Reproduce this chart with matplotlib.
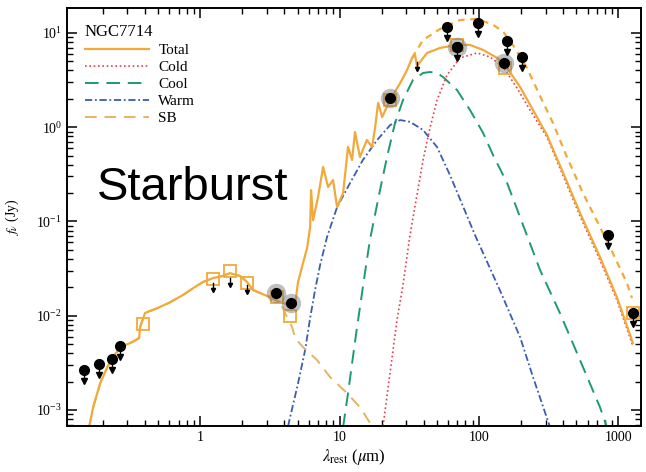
import numpy as np
import matplotlib
matplotlib.use('Agg')
import matplotlib.pyplot as plt
from matplotlib.ticker import NullFormatter, LogLocator

plt.rcParams['font.family'] = ['Liberation Serif', 'DejaVu Serif']
plt.rcParams['mathtext.fontset'] = 'stix'

# model curves (wavelength in micron, flux in Jy)
tot_lam = [0.160, 0.171, 0.192, 0.216, 0.238, 0.258, 0.290, 0.326, 0.365, 0.371, 0.403, 0.492,
           0.610, 0.755, 0.891, 1.05, 1.24, 1.44, 1.64, 1.94, 2.17, 2.40, 2.69, 3.28, 3.74, 4.42,
           4.80, 5.04, 5.47, 5.85, 6.15, 6.25, 6.46, 7.01, 7.62, 8.27, 8.98, 9.60, 10.6, 11.5,
           12.3, 12.9, 14.0, 15.7, 17.1, 18.0, 18.9, 20.2, 23.0, 27.2, 30.5, 33.1, 34.8, 35.9,
           42.4, 52.5, 69.5, 86.2, 107, 135, 159, 197, 244, 307, 413, 530, 737, 975, 1270]
tot_f = [6.57e-4, 1.07e-3, 1.92e-3, 2.85e-3, 3.63e-3, 4.31e-3, 4.87e-3, 5.25e-3, 5.78e-3, 7.57e-3,
         0.0107, 0.0120, 0.0139, 0.0166, 0.0196, 0.0228, 0.0251, 0.0263, 0.0283, 0.0263, 0.0228,
         0.0187, 0.0174, 0.0154, 0.0139, 0.0130, 0.0133, 0.0228, 0.0362, 0.0522, 0.0872, 0.215,
         0.103, 0.182, 0.378, 0.232, 0.275, 0.142, 0.200, 0.616, 0.449, 0.889, 0.483, 0.731,
         0.616, 1.00, 1.81, 1.28, 1.94, 2.94, 4.05, 5.43, 5.84, 4.46, 6.13, 6.93, 7.46, 7.46,
         6.60, 5.43, 4.25, 2.67, 1.52, 0.826, 0.296, 0.123, 0.0419, 0.0157, 5.12e-3]

sb_tail_lam = [4.20, 4.57, 4.80, 5.47, 6.90, 8.55, 11.3, 14.0, 17.1]
sb_tail_f = [9.66e-3, 7.57e-3, 5.78e-3, 4.64e-3, 3.38e-3, 2.23e-3, 1.51e-3, 1.07e-3, 6.73e-4]

warm_lam = [4.27, 5.04, 5.66, 6.15, 6.67, 7.25, 8.13, 9.60, 11.9, 14.7, 18.6, 23.0, 27.2, 32.0,
            39.7, 50.0, 61.9, 93.6, 141, 197, 244, 323]
warm_f = [6.73e-4, 1.92e-3, 4.31e-3, 9.42e-3, 0.0187, 0.0344, 0.0683, 0.142, 0.256, 0.449, 0.731,
          1.05, 1.19, 1.14, 0.934, 0.616, 0.311, 0.0717, 0.0187, 5.93e-3, 2.23e-3, 6.57e-4]

cool_lam = [10.6, 11.5, 13.1, 15.2, 16.5, 19.5, 21.9, 25.0, 28.5, 33.6, 39.7, 44.5, 50.0, 55.2,
            69.5, 86.2, 107, 126, 159, 197, 274, 380, 530, 737, 827]
cool_f = [6.57e-4, 1.51e-3, 6.22e-3, 0.0283, 0.0634, 0.215, 0.483, 1.11, 1.94, 3.17, 3.76, 3.85,
          3.76, 3.41, 2.48, 1.52, 0.868, 0.507, 0.256, 0.111, 0.0305, 0.0107, 3.38e-3, 1.07e-3, 6.57e-4]

cold_lam = [20.5, 23.0, 25.8, 28.5, 32.0, 35.9, 39.7, 44.5, 50.0, 59.0, 73.1, 96.8, 120, 149, 187,
            232, 307, 413, 530, 737, 975, 1270]
cold_f = [6.73e-4, 2.46e-3, 8.98e-3, 0.0211, 0.0717, 0.191, 0.449, 0.98, 1.94, 3.58, 5.43, 6.13,
          5.56, 4.36, 2.61, 1.52, 0.787, 0.275, 0.114, 0.0389, 0.0147, 4.75e-3]

up_lam = [33.1, 39.7, 52.5, 73.1, 96.8, 126, 149, 175, 221, 274, 339, 427, 556, 656, 869, 1150, 1250]
up_f = [5.43, 8.43, 11.0, 13.7, 14.1, 12.2, 10.3, 7.46, 4.25, 2.14, 1.11, 0.483, 0.200, 0.123,
        0.0535, 0.0222, 0.0154]

# photometry
lim_lam = [0.147, 0.189, 0.234, 0.267, 59.0, 69.5, 98.4, 158.7, 203, 841, 1271]
lim_f = [2.64e-3, 3.06e-3, 3.46e-3, 4.75e-3, 11.6, 7.10, 12.8, 8.22, 5.56, 0.0717, 0.0107]
small_lam = [1.24, 1.64, 2.17, 35.9]
small_f = [0.0222, 0.0251, 0.0211, 4.92]
det_lam = [3.51, 4.49, 23.0, 69.5, 151]
det_f = [0.0174, 0.0136, 2.04, 7.10, 4.80]
sq_lam = [0.390, 1.24, 1.64, 2.17, 3.56, 4.42, 23.0, 69.5, 153.6, 1271]
sq_f = [8.15e-3, 0.0245, 0.0297, 0.0222, 0.0157, 9.9e-3, 1.94, 7.46, 4.25, 0.0107]

c_tot = '#f2a93b'
c_sb = '#e3b466'

fig = plt.figure(figsize=(6.46, 4.72), dpi=100)
ax = fig.add_axes([0.1037, 0.0975, 0.8885, 0.8856])

ax.plot(cold_lam, cold_f, color='#e8404a', lw=1.2, dashes=(1, 1.6), label='Cold')
ax.plot(cool_lam, cool_f, color='#1e9a6c', lw=1.4, dashes=(7, 4), label='Cool')
ax.plot(warm_lam, warm_f, color='#3c5cb0', lw=1.3, dashes=(4, 1.5, 1, 1.5), label='Warm')
ax.plot(tot_lam[:25] + sb_tail_lam, tot_f[:25] + sb_tail_f, color=c_sb, lw=1.4,
        dashes=(6, 4), label='SB')
ax.plot(up_lam, up_f, color=c_tot, lw=1.6, dashes=(3, 2.5))
ax.plot(tot_lam, tot_f, color=c_tot, lw=1.6, label='Total')

ax.plot(sq_lam, sq_f, 's', ms=8, mfc='none', mec=c_tot, mew=1.3)
ax.plot(det_lam, det_f, 'o', ms=14, color='0.45', alpha=0.45, mew=0)
ax.plot(det_lam, det_f, 'o', ms=7, color='k')

for l, f in zip(lim_lam, lim_f):
    ax.plot([l, l], [f, f * 0.77], color='k', lw=1)
    ax.plot(l, f * 0.77, 'v', color='k', ms=4)
ax.plot(lim_lam, lim_f, 'o', ms=7, color='k')
for l, f in zip(small_lam, small_f):
    ax.plot([l, l], [f, f * 0.85], color='k', lw=1)
    ax.plot(l, f * 0.85, 'v', color='k', ms=3)

ax.set_xscale('log')
ax.set_yscale('log')
ax.set_xlim(0.111, 1450)
ax.set_ylim(6.76e-4, 18.4)

ax.set_xticks([1, 10, 100, 1000])
ax.set_xticklabels(['1', '10', '100', '1000'])
ax.xaxis.set_minor_locator(LogLocator(base=10, subs=np.arange(2, 10)))
ax.xaxis.set_minor_formatter(NullFormatter())
ax.set_yticks([1e-3, 1e-2, 1e-1, 1, 10])
ax.yaxis.set_minor_locator(LogLocator(base=10, subs=np.arange(2, 10)))
ax.yaxis.set_minor_formatter(NullFormatter())

ax.tick_params(which='both', direction='in', top=True, right=True, labelsize=10)
ax.tick_params(which='major', length=7, width=1.1)
ax.tick_params(which='minor', length=4, width=1.0)
for s in ax.spines.values():
    s.set_linewidth(1.4)

ax.set_xlabel(r'$\lambda_{\rm rest}$ ($\mu$m)', fontsize=12)
ax.set_ylabel(r'$f_\nu$ (Jy)', fontsize=10)
ax.xaxis.set_label_coords(0.5, -0.05)
ax.yaxis.set_label_coords(-0.08, 0.5)

h, lab = ax.get_legend_handles_labels()
order = ['Total', 'Cold', 'Cool', 'Warm', 'SB']
hh = [h[lab.index(o)] for o in order]
leg = ax.legend(hh, order, loc='upper left', bbox_to_anchor=(0.018, 0.98), frameon=False,
                borderpad=0, handlelength=4.2, handletextpad=0.6, labelspacing=0.22,
                fontsize=11, title='NGC7714', title_fontsize=12, alignment='left')

fig.text(97 / 646, 1 - 200 / 472, 'Starburst', fontsize=34, family='Liberation Sans', va='baseline')

plt.savefig('out.png', dpi=100)
